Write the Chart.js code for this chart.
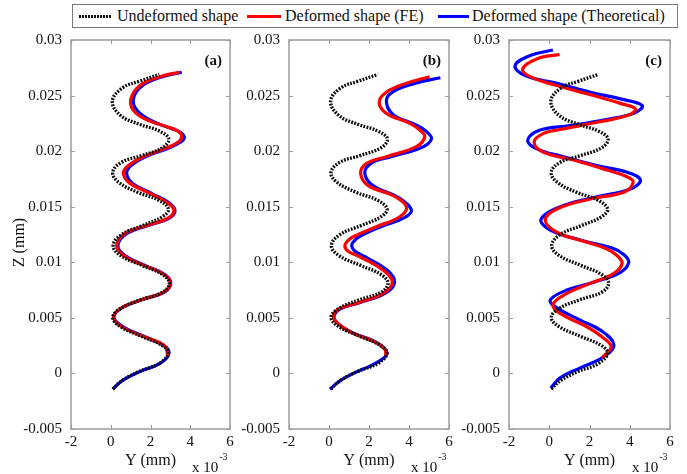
<!DOCTYPE html>
<html>
<head>
<meta charset="utf-8">
<script src="https://cdn.jsdelivr.net/npm/chart.js@4.4.0/dist/chart.umd.min.js"></script>
<style>
  html, body { margin: 0; padding: 0; background: #fff; }
  body { width: 687px; height: 474px; position: relative; overflow: hidden; font-family: "Liberation Serif", "Times New Roman", serif; }
  canvas.panel { position: absolute; left: 0; top: 0; }
  #legend { position: absolute; left: 72px; top: 4px; width: 606px; height: 24px; box-sizing: border-box; border: 1px solid #7a7a7a; background: #fff; z-index: 5; }
  #legend .sw { position: absolute; top: 10px; height: 3px; }
  #legend .lbl { position: absolute; top: 1px; font-size: 16px; line-height: 20px; color: #111; white-space: nowrap; }
  #legend .dotted { background: repeating-linear-gradient(to right, #111 0 1.6px, transparent 1.6px 3px); }
</style>
</head>
<body>
<div id="legend">
  <span class="sw dotted" style="left:6px;width:33px"></span><span class="lbl" style="left:44px">Undeformed shape</span>
  <span class="sw" style="left:174px;width:34px;background:#ff0000"></span><span class="lbl" style="left:212px">Deformed shape (FE)</span>
  <span class="sw" style="left:365px;width:31px;background:#0000ff"></span><span class="lbl" style="left:399px">Deformed shape (Theoretical)</span>
</div>
<canvas class="panel" id="pa" width="687" height="474"></canvas>
<canvas class="panel" id="pb" width="687" height="474"></canvas>
<canvas class="panel" id="pc" width="687" height="474"></canvas>
<script>
// Axis ticks (Y in units of 1e-3 mm, Z in mm)
const yTickValues = [-2, 0, 2, 4, 6];
const yTickLabels = ['-2', '0', '2', '4', '6'];
const zTickValues = [-0.005, 0, 0.005, 0.01, 0.015, 0.02, 0.025, 0.03];
const zTickLabels = ['-0.005', '0', '0.005', '0.01', '0.015', '0.02', '0.025', '0.03'];

// Undeformed helix (same in every panel)
const undefY = [0.10, 0.60, 1.47, 2.45, 2.90, 2.60, 1.60, 0.50, 0.10, 0.45, 1.47, 2.60, 2.95, 2.60, 1.60, 0.50, 0.12, 0.55, 1.60, 2.60, 2.90, 2.40, 1.35, 0.40, 0.10, 0.55, 1.55, 2.60, 2.92, 2.45, 1.47, 0.50, 0.08, 0.60, 1.47, 2.44];
const undefZ = [-0.0014, -0.0006, 0.0002, 0.0009, 0.0018, 0.0025, 0.0033, 0.0042, 0.0050, 0.0058, 0.0066, 0.0073, 0.0081, 0.0089, 0.0097, 0.0106, 0.0115, 0.0125, 0.0133, 0.0141, 0.0148, 0.0156, 0.0163, 0.0172, 0.0181, 0.0190, 0.0196, 0.0203, 0.0211, 0.0218, 0.0224, 0.0232, 0.0245, 0.0257, 0.0263, 0.0269];

// (a) deformed shape, FE
const feY_a = [2.88, 2.70, 1.68, 0.55, 0.14, 0.45, 1.50, 2.65, 3.00, 2.68, 1.70, 0.65, 0.30, 0.72, 1.97, 2.90, 3.18, 2.81, 1.97, 0.97, 0.63, 0.89, 1.64, 2.81, 3.38, 3.57, 3.38, 2.81, 1.97, 1.22, 1.00, 1.47, 2.48, 3.43];
const feZ_a = [0.0015, 0.0025, 0.0033, 0.0042, 0.0050, 0.0058, 0.0066, 0.0073, 0.0081, 0.0089, 0.0097, 0.0106, 0.0115, 0.0126, 0.0134, 0.0140, 0.0147, 0.0154, 0.0162, 0.0171, 0.0180, 0.0187, 0.0195, 0.0203, 0.0208, 0.0213, 0.0218, 0.0222, 0.0227, 0.0235, 0.0246, 0.0259, 0.0267, 0.0271];
// (a) deformed shape, theoretical
const thY_a = [0.10, 0.62, 1.50, 2.48, 2.93, 2.68, 1.72, 0.62, 0.16, 0.48, 1.52, 2.68, 3.02, 2.72, 1.75, 0.72, 0.36, 0.82, 2.05, 2.97, 3.23, 2.90, 2.05, 1.10, 0.80, 1.02, 1.75, 2.95, 3.50, 3.70, 3.50, 2.95, 2.10, 1.35, 1.14, 1.60, 2.60, 3.57];
const thZ_a = [-0.0014, -0.0006, 0.0002, 0.0009, 0.0018, 0.0025, 0.0033, 0.0042, 0.0050, 0.0058, 0.0066, 0.0073, 0.0081, 0.0089, 0.0097, 0.0106, 0.0115, 0.0126, 0.0134, 0.0140, 0.0147, 0.0154, 0.0162, 0.0171, 0.0180, 0.0187, 0.0195, 0.0203, 0.0208, 0.0212, 0.0217, 0.0221, 0.0227, 0.0236, 0.0247, 0.0259, 0.0267, 0.0271];

// (b) deformed shape, FE
const feY_b = [2.85, 2.78, 2.22, 1.21, 0.50, 0.22, 0.50, 1.54, 2.70, 3.17, 2.70, 1.54, 0.95, 0.79, 0.92, 1.21, 2.37, 3.54, 3.87, 3.20, 1.96, 1.58, 1.88, 2.87, 4.37, 4.79, 4.54, 4.04, 2.87, 2.51, 2.87, 3.87, 5.03];
const feZ_b = [0.0016, 0.0022, 0.0029, 0.0036, 0.0044, 0.0051, 0.0058, 0.0064, 0.0072, 0.0082, 0.0093, 0.0105, 0.0110, 0.0115, 0.0119, 0.0123, 0.0132, 0.0141, 0.0150, 0.0160, 0.0169, 0.0180, 0.0189, 0.0195, 0.0204, 0.0213, 0.0219, 0.0225, 0.0234, 0.0244, 0.0253, 0.0261, 0.0267];
// (b) deformed shape, theoretical
const thY_b = [0.04, 0.60, 1.21, 2.20, 2.85, 2.80, 2.25, 1.25, 0.50, 0.25, 0.55, 1.60, 2.80, 3.28, 2.90, 1.80, 1.30, 1.13, 1.25, 1.50, 2.60, 3.75, 4.12, 3.50, 2.20, 1.79, 2.10, 3.10, 4.60, 5.12, 4.85, 4.30, 3.20, 2.87, 3.25, 4.30, 5.57];
const thZ_b = [-0.0014, -0.0006, 0.0000, 0.0008, 0.0016, 0.0022, 0.0029, 0.0036, 0.0044, 0.0051, 0.0058, 0.0064, 0.0072, 0.0082, 0.0093, 0.0105, 0.0110, 0.0115, 0.0119, 0.0123, 0.0132, 0.0140, 0.0147, 0.0158, 0.0169, 0.0180, 0.0189, 0.0195, 0.0203, 0.0211, 0.0218, 0.0224, 0.0233, 0.0246, 0.0254, 0.0261, 0.0266];

// (c) deformed shape, FE
const feY_c = [2.62, 3.07, 2.62, 1.87, 0.54, 0.18, 0.88, 2.04, 3.21, 3.62, 3.37, 2.87, 1.87, 0.38, -0.20, 0.38, 2.04, 3.70, 4.17, 3.87, 2.87, 1.21, -0.28, -0.75, -0.28, 0.71, 2.37, 3.87, 4.28, 3.54, 2.21, 0.38, -0.95, -1.32, -0.62, 0.51];
const feZ_c = [0.0014, 0.0024, 0.0033, 0.0042, 0.0054, 0.0062, 0.0072, 0.0081, 0.0090, 0.0099, 0.0106, 0.0112, 0.0118, 0.0127, 0.0138, 0.0148, 0.0157, 0.0163, 0.0172, 0.0177, 0.0183, 0.0192, 0.0199, 0.0208, 0.0216, 0.0220, 0.0226, 0.0232, 0.0238, 0.0243, 0.0250, 0.0259, 0.0267, 0.0274, 0.0283, 0.0287];
// (c) deformed shape, theoretical
const thY_c = [0.08, 0.54, 1.54, 2.71, 3.21, 2.54, 1.54, 0.38, 0.05, 0.88, 2.21, 3.54, 3.95, 3.70, 3.10, 1.54, 0.05, -0.40, 0.71, 2.37, 4.03, 4.53, 3.87, 2.37, 0.71, -0.62, -1.07, -0.45, 1.04, 2.70, 4.20, 4.62, 3.54, 2.04, 0.38, -1.20, -1.70, -0.95, 0.18];
const thZ_c = [-0.0013, -0.0004, 0.0005, 0.0015, 0.0026, 0.0039, 0.0048, 0.0059, 0.0066, 0.0075, 0.0082, 0.0091, 0.0100, 0.0107, 0.0113, 0.0120, 0.0129, 0.0139, 0.0151, 0.0159, 0.0166, 0.0174, 0.0181, 0.0187, 0.0195, 0.0202, 0.0210, 0.0219, 0.0223, 0.0228, 0.0234, 0.0241, 0.0247, 0.0253, 0.0261, 0.0268, 0.0277, 0.0286, 0.0291];

const seriesNames = ['Undeformed shape', 'Deformed shape (FE)', 'Deformed shape (Theoretical)'];
const panelTags = ['(a)', '(b)', '(c)'];

// ---- layout of the three axes boxes on the page ----
const FONT = '"Liberation Serif", "Times New Roman", serif';
const PAGE_W = 687;
const boxes = [
  { canvas: 'pa', left: 71, right: 230, zTitle: true },
  { canvas: 'pb', left: 289, right: 449, zTitle: false },
  { canvas: 'pc', left: 509, right: 670, zTitle: false }
];
const Y_AXIS_W = 60;
const X_AXIS_H = 45;
const PLOT_TOP = 40;

function points(xs, zs) {
  return xs.map((v, i) => ({ x: v, y: zs[i] }));
}

// Frame, inward tick marks, panel tag, exponent note and Z label
const framePlugin = {
  id: 'frame',
  afterDatasetsDraw(chart, args, opts) {
    const { ctx, chartArea: { left, right, top, bottom }, scales: { x, y } } = chart;
    ctx.save();
    ctx.strokeStyle = '#9c9c9c';
    ctx.lineWidth = 1.5;
    ctx.strokeRect(left, top, right - left, bottom - top);
    ctx.lineWidth = 1;
    ctx.beginPath();
    yTickValues.forEach(v => {
      const px = Math.round(x.getPixelForValue(v)) + 0.5;
      ctx.moveTo(px, bottom); ctx.lineTo(px, bottom - 4);
      ctx.moveTo(px, top); ctx.lineTo(px, top + 4);
    });
    zTickValues.forEach(v => {
      const py = Math.round(y.getPixelForValue(v)) + 0.5;
      ctx.moveTo(left, py); ctx.lineTo(left + 4, py);
      ctx.moveTo(right, py); ctx.lineTo(right - 4, py);
    });
    ctx.stroke();

    ctx.fillStyle = '#111';
    ctx.textBaseline = 'middle';
    ctx.textAlign = 'right';
    ctx.font = 'bold 15px ' + FONT;
    ctx.fillText(opts.tag, right - 8, top + 21);

    ctx.textAlign = 'left';
    ctx.font = '15px ' + FONT;
    const base = right - 38;
    ctx.fillText('x 10', base, bottom + 39);
    const w = ctx.measureText('x 10').width;
    ctx.font = '10px ' + FONT;
    ctx.fillText('-3', base + w + 1, bottom + 28);

    if (opts.zTitle) {
      ctx.save();
      ctx.translate(20, (top + bottom) / 2 + 8);
      ctx.rotate(-Math.PI / 2);
      ctx.textAlign = 'center';
      ctx.font = '16px ' + FONT;
      ctx.fillText('Z (mm)', 0, 0);
      ctx.restore();
    }
    ctx.restore();
  }
};

const panelData = [
  { fe: points(feY_a, feZ_a), th: points(thY_a, thZ_a) },
  { fe: points(feY_b, feZ_b), th: points(thY_b, thZ_b) },
  { fe: points(feY_c, feZ_c), th: points(thY_c, thZ_c) }
];

boxes.forEach((b, i) => {
  const tickFont = { family: FONT, size: 15 };
  new Chart(document.getElementById(b.canvas), {
    type: 'scatter',
    data: {
      datasets: [
        { label: seriesNames[0], data: points(undefY, undefZ), showLine: true, borderColor: '#0a0a0a', borderWidth: 3.4,
          borderDash: [1.8, 1.4], borderCapStyle: 'butt', pointRadius: 0, tension: 0.4 },
        { label: seriesNames[1], data: panelData[i].fe, showLine: true, borderColor: '#ff0000', borderWidth: 3.2,
          pointRadius: 0, tension: 0.4 },
        { label: seriesNames[2], data: panelData[i].th, showLine: true, borderColor: '#0000ff', borderWidth: 3.2,
          pointRadius: 0, tension: 0.4 }
      ]
    },
    options: {
      responsive: false,
      animation: false,
      devicePixelRatio: 1,
      layout: { padding: { left: b.left - Y_AXIS_W, right: PAGE_W - b.right, top: PLOT_TOP, bottom: 0 } },
      plugins: {
        legend: { display: false },
        tooltip: { enabled: false },
        frame: { tag: panelTags[i], zTitle: b.zTitle }
      },
      scales: {
        x: {
          type: 'linear', position: 'bottom', min: -2, max: 6,
          afterBuildTicks: s => { s.ticks = yTickValues.map(v => ({ value: v })); },
          afterFit: s => { s.height = X_AXIS_H; },
          ticks: { callback: (v, idx) => yTickLabels[idx], font: tickFont, color: '#111', padding: 4,
                   maxRotation: 0, autoSkip: false },
          grid: { display: false, drawTicks: false },
          border: { display: false },
          title: { display: true, text: 'Y (mm)', font: { family: FONT, size: 16 }, color: '#111',
                   padding: { top: 0, bottom: 4 } }
        },
        y: {
          type: 'linear', position: 'left', min: -0.005, max: 0.03,
          afterBuildTicks: s => { s.ticks = zTickValues.map(v => ({ value: v })); },
          afterFit: s => { s.width = Y_AXIS_W; },
          ticks: { callback: (v, idx) => zTickLabels[idx], font: tickFont, color: '#111', padding: 9,
                   autoSkip: false },
          grid: { display: false, drawTicks: false },
          border: { display: false }
        }
      }
    },
    plugins: [framePlugin]
  });
});
</script>
</body>
</html>
